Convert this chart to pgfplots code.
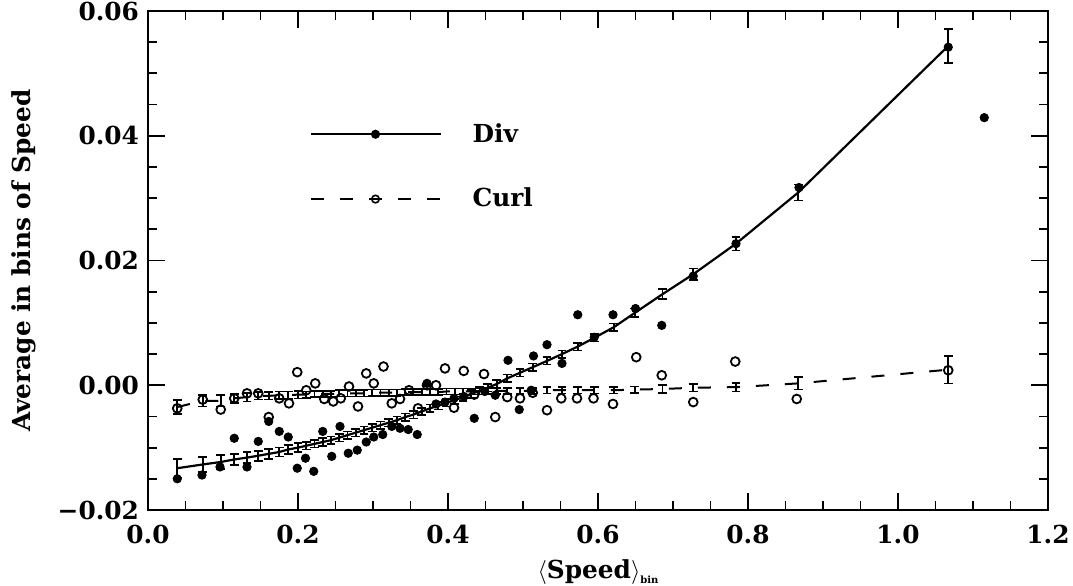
\documentclass[border=0pt]{standalone}
\usepackage{pgfplots}
\usepackage{pgfplotstable}
\pgfplotsset{compat=1.18}
\usepackage{fontspec}
\setmainfont{DejaVu Serif}

\pgfplotstableread{
x      d        de      c        ce
0.039 -0.0133  0.0015 -0.0035  0.0011
0.073 -0.0127  0.0012 -0.0025  0.0009
0.097 -0.0123  0.0011 -0.0025  0.0009
0.115 -0.0119  0.0009 -0.0021  0.0007
0.132 -0.0116  0.0009 -0.0019  0.0007
0.147 -0.0113  0.0008 -0.0017  0.0006
0.161 -0.0110  0.0008 -0.0017  0.0006
0.175 -0.0107  0.0007 -0.0016  0.0006
0.187 -0.0103  0.0007 -0.0016  0.0006
0.200 -0.0100  0.0007 -0.0015  0.0006
0.211 -0.0097  0.0006 -0.0015  0.0005
0.222 -0.0094  0.0006 -0.0014  0.0005
0.233 -0.0091  0.0006 -0.0014  0.0005
0.244 -0.0088  0.0006 -0.0014  0.0005
0.255 -0.0084  0.0006 -0.0013  0.0005
0.266 -0.0080  0.0006 -0.0013  0.0005
0.277 -0.0076  0.0006 -0.0013  0.0005
0.288 -0.0072  0.0006 -0.0013  0.0005
0.299 -0.0068  0.0006 -0.0012  0.0005
0.310 -0.0064  0.0006 -0.0012  0.0005
0.321 -0.0060  0.0006 -0.0012  0.0005
0.332 -0.0056  0.0006 -0.0012  0.0005
0.343 -0.0051  0.0006 -0.0011  0.0005
0.354 -0.0047  0.0006 -0.0011  0.0005
0.365 -0.0042  0.0006 -0.0011  0.0005
0.376 -0.0037  0.0006 -0.0011  0.0005
0.387 -0.0033  0.0006 -0.0011  0.0005
0.398 -0.0028  0.0006 -0.0010  0.0005
0.409 -0.0024  0.0006 -0.0010  0.0005
0.420 -0.0019  0.0006 -0.0010  0.0005
0.431 -0.0014  0.0006 -0.0010  0.0005
0.442 -0.0009  0.0006 -0.0010  0.0005
0.453 -0.0004  0.0006 -0.0009  0.0005
0.465  0.0002  0.0006 -0.0009  0.0005
0.479  0.0011  0.0006 -0.0009  0.0005
0.496  0.0020  0.0006 -0.0009  0.0005
0.513  0.0029  0.0006 -0.0009  0.0005
0.532  0.0039  0.0006 -0.0008  0.0005
0.552  0.0050  0.0006 -0.0008  0.0005
0.573  0.0062  0.0006 -0.0008  0.0005
0.595  0.0076  0.0006 -0.0008  0.0005
0.621  0.0093  0.0006 -0.0008  0.0005
0.649  0.0116  0.0007 -0.0007  0.0005
0.686  0.0146  0.0008 -0.0006  0.0006
0.727  0.0178  0.0009 -0.0004  0.0006
0.784  0.0227  0.0011 -0.0003  0.0007
0.867  0.0309  0.0013  0.0003  0.0010
1.067  0.0544  0.0027  0.0025  0.0022
}\binned

\pgfplotstableread{
x      y
0.039 -0.0150
0.072 -0.0144
0.096 -0.0131
0.115 -0.0085
0.132 -0.0131
0.147 -0.0090
0.161 -0.0058
0.175 -0.0074
0.187 -0.0083
0.199 -0.0133
0.210 -0.0117
0.221 -0.0138
0.233 -0.0074
0.245 -0.0114
0.256 -0.0066
0.267 -0.0109
0.279 -0.0104
0.291 -0.0091
0.301 -0.0083
0.313 -0.0079
0.325 -0.0066
0.336 -0.0069
0.347 -0.0071
0.359 -0.0079
0.372  0.0003
0.384 -0.0030
0.396 -0.0027
0.408 -0.0021
0.421 -0.0018
0.435 -0.0053
0.449 -0.0010
0.463 -0.0016
0.480  0.0040
0.495 -0.0039
0.511 -0.0008
0.514  0.0047
0.532  0.0065
0.552  0.0035
0.573  0.0113
0.595  0.0077
0.620  0.0113
0.650  0.0123
0.685  0.0096
0.727  0.0175
0.784  0.0227
0.868  0.0317
1.067  0.0542
1.115  0.0429
}\divpts

\pgfplotstableread{
x      y
0.039 -0.0037
0.073 -0.0023
0.097 -0.0039
0.115 -0.0021
0.132 -0.0013
0.147 -0.0013
0.161 -0.0051
0.175 -0.0021
0.188 -0.0029
0.199  0.0021
0.211 -0.0008
0.223  0.0003
0.235 -0.0022
0.247 -0.0026
0.257 -0.0021
0.268 -0.0002
0.280 -0.0034
0.291  0.0019
0.301  0.0003
0.314  0.0030
0.325 -0.0029
0.336 -0.0022
0.348 -0.0008
0.360 -0.0037
0.372  0.0000
0.384  0.0000
0.396  0.0027
0.408 -0.0036
0.421  0.0023
0.435 -0.0015
0.448  0.0018
0.463 -0.0051
0.479 -0.0019
0.496 -0.0021
0.513 -0.0012
0.532 -0.0040
0.551 -0.0021
0.572 -0.0021
0.594 -0.0021
0.620 -0.0030
0.651  0.0045
0.685  0.0016
0.727 -0.0027
0.783  0.0038
0.865 -0.0022
1.067  0.0024
}\curlpts

\begin{document}
\begin{tikzpicture}
\path[use as bounding box] (-74pt,-37.5pt) rectangle (462.5pt,255pt);
\begin{axis}[
  at={(0pt,0pt)}, anchor=south west,
  scale only axis, width=450pt, height=249.5pt,
  xmin=0, xmax=1.2, ymin=-0.02, ymax=0.06,
  xtick={0,0.2,0.4,0.6,0.8,1.0,1.2},
  xticklabels={0.0,0.2,0.4,0.6,0.8,1.0,1.2},
  ytick={-0.02,0,0.02,0.04,0.06},
  yticklabels={−0.02,0.00,0.02,0.04,0.06},
  scaled y ticks=false, scaled x ticks=false,
  minor x tick num=3, minor y tick num=3,
  tick align=inside,
  major tick length=8.5pt, minor tick length=4.5pt,
  axis line style={line width=1pt},
  every tick/.style={black, line width=0.9pt},
  tick label style={font=\fontsize{12.4}{14}\selectfont\bfseries},
  xticklabel style={yshift=-4pt},
  yticklabel style={xshift=-1pt},
  label style={font=\fontsize{12.4}{14}\selectfont\bfseries},
  xlabel={$\langle$Speed$\rangle$\raisebox{-2.5pt}{\fontsize{5}{5}\selectfont bin}},
  xlabel style={at={(axis description cs:0.5,-0.124)}, anchor=center},
  ylabel={Average in bins of Speed},
  ylabel style={at={(axis description cs:-0.138,0.5)}, anchor=center},
  legend image code/.code={
    \draw[#1] (0pt,0pt) -- (65pt,0pt);
    \draw[#1] plot coordinates {(32pt,0pt)};
  },
  legend style={draw=none, fill=none, at={(axis cs:0.216,0.0427)}, anchor=north west,
    inner sep=0pt, row sep=17.5pt, font=\fontsize{12.4}{14}\selectfont\bfseries,
    /tikz/every odd column/.append style={column sep=13pt}},
  legend cell align=left,
]
\addlegendimage{black, line width=1.1pt, mark=*, mark size=1.7pt, mark options={solid}}
\addlegendentry{Div}
\addlegendimage{black, line width=1pt, dash pattern=on 6.5pt off 8pt, mark=o, mark size=1.9pt, mark options={solid, line width=0.8pt}}
\addlegendentry{Curl}

\addplot[forget plot, black, line width=1.1pt, mark=none,
  error bars/.cd, y dir=both, y explicit,
  error bar style={line width=0.8pt, solid},
  error mark options={rotate=90, line width=0.8pt, mark size=2.2pt, solid}]
  table[x=x, y=d, y error=de] {\binned};

\addplot[forget plot, black, line width=1pt, dash pattern=on 6.5pt off 8pt, mark=none,
  error bars/.cd, y dir=both, y explicit,
  error bar style={line width=0.8pt, solid},
  error mark options={rotate=90, line width=0.8pt, mark size=2.2pt, solid}]
  table[x=x, y=c, y error=ce] {\binned};

\addplot[forget plot, only marks, black, mark=*, mark size=2.1pt] table[x=x, y=y] {\divpts};
\addplot[forget plot, only marks, black, mark=o, mark size=2.2pt, mark options={line width=0.9pt, fill=white}] table[x=x, y=y] {\curlpts};
\end{axis}
\end{tikzpicture}
\end{document}
